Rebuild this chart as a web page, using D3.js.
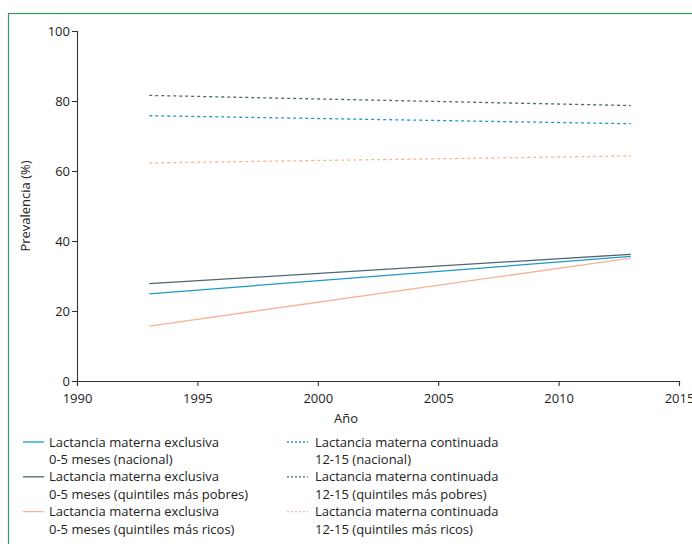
<!DOCTYPE html>
<html><head><meta charset="utf-8">
<script src="https://cdn.jsdelivr.net/npm/d3@7"></script>
<style>
html,body{margin:0;padding:0;background:#fff;}
svg{display:block;font-family:"Open Sans",sans-serif;}
</style></head>
<body>
<svg id="c" width="692" height="544"></svg>
<script>
const years = [1993, 2013];
const seriesNames = [
  ["Lactancia materna exclusiva", "0-5 meses (nacional)"],
  ["Lactancia materna exclusiva", "0-5 meses (quintiles más pobres)"],
  ["Lactancia materna exclusiva", "0-5 meses (quintiles más ricos)"],
  ["Lactancia materna continuada", "12-15 (nacional)"],
  ["Lactancia materna continuada", "12-15 (quintiles más pobres)"],
  ["Lactancia materna continuada", "12-15 (quintiles más ricos)"]
];
const excNacional = [24.9, 35.6];
const excPobres = [27.8, 36.2];
const excRicos = [15.7, 35.1];
const conNacional = [75.8, 73.5];
const conPobres = [81.6, 78.7];
const conRicos = [62.3, 64.3];
const xTicks = [1990, 1995, 2000, 2005, 2010, 2015];
const yTicks = [0, 20, 40, 60, 80, 100];
const colors = ["#1b9ac6", "#4f6672", "#f7b49a", "#1b9ac6", "#4f6672", "#f7b49a"];
const dashed = [false, false, false, true, true, true];
const values = [excNacional, excPobres, excRicos, conNacional, conPobres, conRicos];

const svg = d3.select("#c");
svg.append("rect").attr("x", 8.5).attr("y", 13.5).attr("width", 700).attr("height", 560)
  .attr("fill", "none").attr("stroke", "#3a9364").attr("stroke-width", 1.2);

const x = d3.scaleLinear().domain([1990, 2015]).range([77, 679]);
const y = d3.scaleLinear().domain([0, 100]).range([381, 31]);

const fs = "13px";
const gx = svg.append("g").attr("transform", "translate(0,381)")
  .call(d3.axisBottom(x).tickValues(xTicks).tickFormat(d3.format("d")).tickSize(5).tickSizeOuter(5));
const gy = svg.append("g").attr("transform", "translate(77,0)")
  .call(d3.axisLeft(y).tickValues(yTicks).tickSize(5).tickSizeOuter(5));
[gx, gy].forEach(g => {
  g.selectAll("path,line").attr("stroke", "#333").attr("stroke-width", 1.1);
  g.selectAll("text").attr("fill", "#222").style("font-size", fs).style("font-family", "Open Sans");
});
gx.selectAll("text").attr("y", 17).attr("dy", "0.35em");
gy.selectAll("text").attr("x", -7);

svg.append("text").attr("x", 346).attr("y", 418).attr("dy", "0.35em").attr("text-anchor", "middle")
  .style("font-size", fs).attr("fill", "#222").text("Año");
svg.append("text").attr("transform", "translate(30,206) rotate(-90)").attr("text-anchor", "middle")
  .style("font-size", fs).attr("fill", "#222").text("Prevalencia (%)");

const line = d3.line().x((d, i) => x(years[i])).y(d => y(d));
values.forEach((v, k) => {
  svg.append("path").attr("d", line(v)).attr("fill", "none")
    .attr("stroke", colors[k]).attr("stroke-width", 1.3)
    .attr("stroke-dasharray", dashed[k] ? "3,3" : null);
});

// legend
const rowH = 17.4;
seriesNames.forEach((nm, k) => {
  const col = k < 3 ? 0 : 1;
  const r = k % 3;
  const lx = col === 0 ? 23 : 287;
  const ly = 442 + r * 2 * rowH;
  svg.append("line").attr("x1", lx).attr("x2", lx + 21).attr("y1", ly).attr("y2", ly)
    .attr("stroke", colors[k]).attr("stroke-width", 1.3)
    .attr("stroke-dasharray", dashed[k] ? "2,2" : null);
  nm.forEach((t, j) => {
    svg.append("text").attr("x", col === 0 ? 49 : 315).attr("y", ly + j * rowH)
      .attr("dy", "0.35em").style("font-size", "13px").attr("fill", "#222").text(t);
  });
});
</script>
</body></html>
